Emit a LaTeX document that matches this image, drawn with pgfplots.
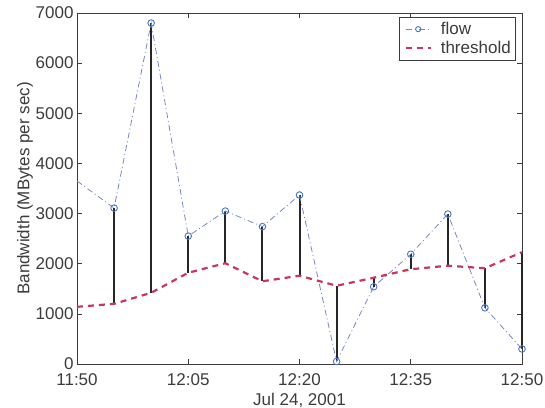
\documentclass[border=0pt]{standalone}
\usepackage{pgfplots}
\pgfplotsset{compat=1.18}
\usepackage{fontspec}
\setmainfont{Liberation Sans}
\usetikzlibrary{calc}
\definecolor{flowline}{RGB}{120,135,195}
\definecolor{flowedge}{RGB}{70,120,195}
\definecolor{flowfill}{RGB}{165,195,235}
\definecolor{thr}{RGB}{200,55,95}
\definecolor{axgray}{RGB}{60,60,60}
\pgfplotsset{
  flowleg/.style={legend image code/.code={
    \draw[##1, mark indices={2}, mark size=2.6pt] plot coordinates {(0pt,0pt) (12.5pt,0pt) (25pt,0pt)};
    \path (-2pt,0pt) (32pt,0pt);}},
  thrleg/.style={legend image code/.code={
    \draw[##1] (0pt,0pt) -- (25pt,0pt);
    \path (-2pt,0pt) (32pt,0pt);}},
}
\begin{document}
\begin{tikzpicture}
\begin{axis}[
  name=ax,
  scale only axis,
  width=445pt, height=351pt,
  xmin=0, xmax=60, ymin=0, ymax=7000,
  xtick={0,15,30,45,60},
  xticklabels={11:50,12:05,12:20,12:35,12:50},
  ytick={0,1000,...,7000},
  tick align=inside,
  tick pos=both,
  major tick length=5pt,
  axis line style={axgray, line width=0.6pt},
  every tick/.style={axgray, line width=0.6pt},
  font=\fontsize{17}{20}\selectfont,
  tick label style={font=\fontsize{17}{20}\selectfont, text=axgray},
  label style={font=\fontsize{17}{20}\selectfont, text=axgray},
  /pgf/number format/assume math mode=true,
  /pgf/number format/1000 sep={},
  xlabel={Jul 24, 2001},
  ylabel={Bandwidth (MBytes per sec)},
  xlabel style={yshift=-1pt},
  ylabel style={yshift=-4pt},
  xticklabel style={yshift=-6pt},
  unbounded coords=jump,
  clip=false,
  legend style={at={(rel axis cs:0.9865,0.9886)}, anchor=north east,
    draw=axgray, line width=0.5pt, font=\fontsize{17}{20}\selectfont,
    inner xsep=3pt, inner ysep=3pt, row sep=1pt, text=axgray},
  legend cell align=left,
]
% stems
\addplot[black!85, line width=2pt, forget plot] coordinates {
 (5,3110) (5,1200) (5,nan)
 (10,6800) (10,1420) (10,nan)
 (15,2550) (15,1820) (15,nan)
 (20,3050) (20,2010) (20,nan)
 (25,2740) (25,1650) (25,nan)
 (30,3370) (30,1760) (30,nan)
 (35,50) (35,1560) (35,nan)
 (40,1540) (40,1720) (40,nan)
 (45,2190) (45,1890) (45,nan)
 (50,2990) (50,1960) (50,nan)
 (55,1120) (55,1910) (55,nan)
 (60,300) (60,2230)
};
% flow
\addplot[flowline, line width=0.8pt, dash pattern=on 6pt off 3pt on 1pt off 3pt,
  mark=o, mark indices={2,...,13}, mark size=3.3pt,
  mark options={solid, draw=flowedge, fill=flowfill, line width=0.9pt},
  flowleg]
 coordinates {
 (0,3650) (5,3110) (10,6800) (15,2550) (20,3050) (25,2740) (30,3370)
 (35,50) (40,1540) (45,2190) (50,2990) (55,1120) (60,300)
};
\addlegendentry{flow}
% threshold
\addplot[thr, line width=2.2pt, dash pattern=on 6pt off 5pt, thrleg]
 coordinates {
 (0,1140) (5,1200) (10,1420) (15,1820) (20,2010) (25,1650) (30,1760)
 (35,1560) (40,1720) (45,1890) (50,1960) (55,1910) (60,2230)
};
\addlegendentry{threshold}
\end{axis}
\pgfresetboundingbox
\path ($(ax.south west)+(-77pt,-44pt)$) rectangle ($(ax.north east)+(23pt,13pt)$);
\end{tikzpicture}
\end{document}
